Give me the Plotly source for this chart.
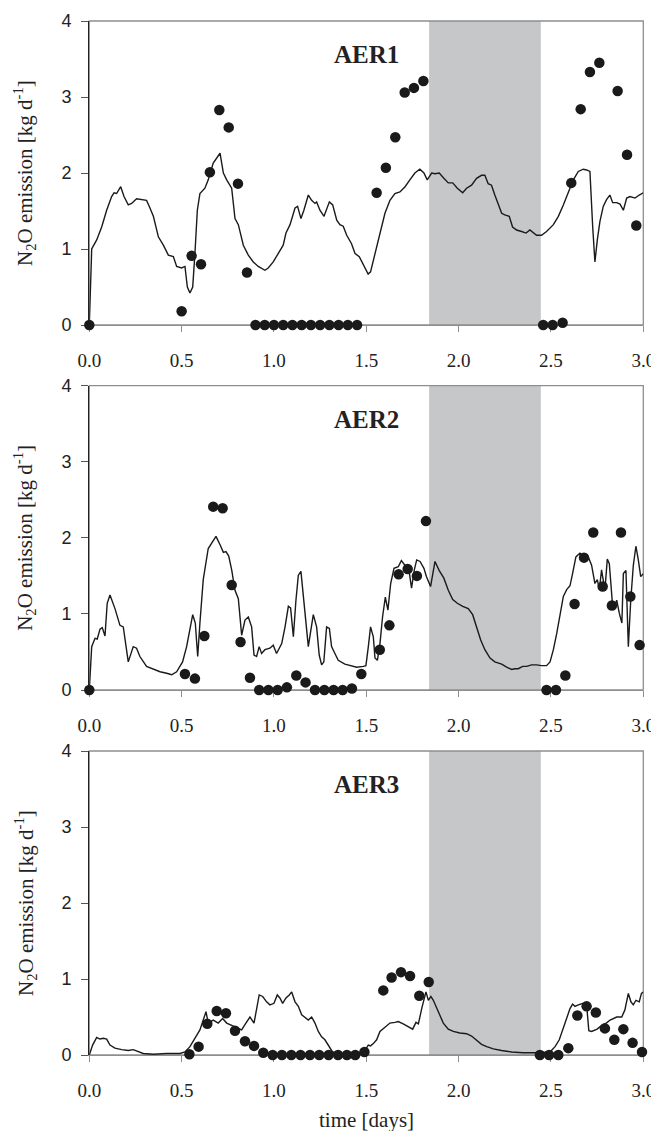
import plotly.graph_objects as go
from plotly.subplots import make_subplots

# ---------------- data ----------------
panel_names = ["AER1", "AER2", "AER3"]
shade_start, shade_end = 1.84, 2.445
x_ticks = [0.0, 0.5, 1.0, 1.5, 2.0, 2.5, 3.0]
y_ticks = [0, 1, 2, 3, 4]

# AER1 measured (dots)
t1_obs = [0.0, 0.50, 0.554, 0.605, 0.653, 0.704, 0.755, 0.805, 0.854,
          0.90, 0.95, 1.00, 1.05, 1.10, 1.15, 1.20, 1.25, 1.30, 1.35, 1.40, 1.45,
          1.556, 1.606, 1.657, 1.708, 1.758, 1.809,
          2.458, 2.509, 2.563, 2.610, 2.661, 2.711, 2.762, 2.861, 2.912, 2.962]
y1_obs = [0.0, 0.18, 0.91, 0.80, 2.01, 2.83, 2.60, 1.86, 0.69,
          0, 0, 0, 0, 0, 0, 0, 0, 0, 0, 0, 0,
          1.74, 2.07, 2.47, 3.06, 3.12, 3.21,
          0.0, 0.0, 0.03, 1.87, 2.84, 3.33, 3.45, 3.08, 2.24, 1.31]

# AER1 model (line)
t1_mod = [0.0, 0.013, 0.04, 0.067, 0.094, 0.121, 0.134, 0.148, 0.17, 0.188, 0.211, 0.229,
          0.256, 0.283, 0.31, 0.325, 0.347, 0.374, 0.401, 0.428, 0.455, 0.473, 0.5, 0.518,
          0.531, 0.545, 0.56, 0.572, 0.585, 0.599, 0.626, 0.644, 0.671, 0.708, 0.726, 0.744,
          0.771, 0.789, 0.807, 0.834, 0.861, 0.888, 0.915, 0.951, 0.969, 0.996, 1.023, 1.05,
          1.065, 1.087, 1.114, 1.128, 1.146, 1.162, 1.186, 1.204, 1.222, 1.231, 1.249, 1.271,
          1.30, 1.318, 1.34, 1.357, 1.375, 1.394, 1.42, 1.439, 1.462, 1.484, 1.51, 1.523,
          1.547, 1.574, 1.601, 1.628, 1.655, 1.682, 1.71, 1.736, 1.763, 1.79, 1.812, 1.83,
          1.854, 1.872, 1.895, 1.92, 1.944, 1.968, 1.993, 2.022, 2.043, 2.07, 2.097, 2.124,
          2.142, 2.16, 2.178, 2.196, 2.214, 2.233, 2.25, 2.274, 2.292, 2.314, 2.341, 2.365,
          2.386, 2.404, 2.422, 2.449, 2.476, 2.513, 2.54, 2.567, 2.594, 2.621, 2.648, 2.675,
          2.693, 2.711, 2.726, 2.738, 2.751, 2.765, 2.783, 2.801, 2.819, 2.834, 2.856, 2.874,
          2.892, 2.91, 2.928, 2.955, 2.978, 3.0]
y1_mod = [0.0, 1.0, 1.12, 1.29, 1.51, 1.69, 1.74, 1.73, 1.82, 1.69, 1.58, 1.60,
          1.66, 1.65, 1.64, 1.56, 1.43, 1.16, 1.05, 0.92, 0.90, 0.77, 0.75, 0.77,
          0.50, 0.42, 0.50, 0.94, 1.51, 1.73, 1.80, 1.91, 2.13, 2.26, 2.0, 1.91,
          1.80, 1.40, 1.32, 1.05, 0.92, 0.83, 0.77, 0.72, 0.75, 0.83, 0.94, 1.05,
          1.21, 1.32, 1.54, 1.56, 1.40, 1.51, 1.71, 1.64, 1.60, 1.62, 1.51, 1.43,
          1.62, 1.58, 1.38, 1.32, 1.30, 1.18, 1.07, 0.94, 0.90, 0.79, 0.67, 0.70,
          0.94, 1.21, 1.47, 1.64, 1.73, 1.75, 1.82, 1.91, 2.0, 2.05, 2.0, 1.91,
          2.0, 1.99, 2.0, 1.93, 1.87, 1.87, 1.80, 1.74, 1.80, 1.84, 1.93, 1.97,
          1.97, 1.86, 1.84, 1.71, 1.60, 1.47, 1.45, 1.43, 1.29, 1.25, 1.23, 1.21,
          1.25, 1.21, 1.18, 1.18, 1.23, 1.32, 1.43, 1.58, 1.75, 1.91, 2.02, 2.05,
          2.04, 2.02, 1.29, 0.83, 1.12, 1.36, 1.56, 1.65, 1.71, 1.61, 1.61, 1.59,
          1.51, 1.67, 1.69, 1.67, 1.71, 1.74]

# AER2 measured (dots)
t2_obs = [0.0, 0.518, 0.572, 0.623, 0.671, 0.722, 0.771, 0.819, 0.87,
          0.92, 0.97, 1.02, 1.07, 1.121, 1.171, 1.222, 1.273, 1.323, 1.372, 1.422,
          1.473, 1.573, 1.625, 1.675, 1.724, 1.774, 1.823,
          2.476, 2.527, 2.578, 2.628, 2.679, 2.729, 2.78, 2.83, 2.879, 2.93, 2.98]
y2_obs = [0.0, 0.21, 0.15, 0.71, 2.41, 2.39, 1.38, 0.63, 0.16,
          0.0, 0.0, 0.0, 0.035, 0.19, 0.10, 0.0, 0.0, 0.0, 0.0, 0.02,
          0.21, 0.53, 0.85, 1.52, 1.59, 1.50, 2.22,
          0.0, 0.0, 0.19, 1.13, 1.74, 2.07, 1.36, 1.11, 2.07, 1.23, 0.59]

# AER2 model (line)
t2_mod = [0.0, 0.013, 0.031, 0.043, 0.058, 0.07, 0.085, 0.097, 0.112, 0.139, 0.166, 0.184,
          0.211, 0.238, 0.256, 0.274, 0.31, 0.347, 0.383, 0.419, 0.446, 0.473, 0.505, 0.527,
          0.545, 0.56, 0.574, 0.587, 0.599, 0.617, 0.644, 0.671, 0.686, 0.708, 0.726, 0.74,
          0.755, 0.771, 0.789, 0.807, 0.825, 0.843, 0.861, 0.879, 0.892, 0.906, 0.92, 0.933,
          0.951, 0.978, 0.996, 1.014, 1.042, 1.06, 1.078, 1.09, 1.105, 1.119, 1.132, 1.146,
          1.162, 1.186, 1.213, 1.231, 1.245, 1.258, 1.27, 1.285, 1.30, 1.312, 1.33, 1.348,
          1.384, 1.42, 1.448, 1.484, 1.498, 1.511, 1.523, 1.538, 1.547, 1.56, 1.574, 1.588,
          1.603, 1.617, 1.632, 1.65, 1.673, 1.69, 1.709, 1.727, 1.745, 1.76, 1.773, 1.791,
          1.812, 1.826, 1.848, 1.872, 1.895, 1.92, 1.944, 1.968, 1.993, 2.022, 2.052, 2.076,
          2.097, 2.119, 2.142, 2.17, 2.196, 2.233, 2.26, 2.287, 2.305, 2.323, 2.347, 2.368,
          2.395, 2.422, 2.449, 2.476, 2.495, 2.513, 2.531, 2.549, 2.567, 2.585, 2.603, 2.617,
          2.635, 2.657, 2.684, 2.702, 2.72, 2.738, 2.751, 2.762, 2.774, 2.792, 2.805, 2.816,
          2.834, 2.847, 2.856, 2.87, 2.884, 2.892, 2.906, 2.919, 2.932, 2.946, 2.96, 2.973,
          2.986, 3.0]
y2_mod = [0.0, 0.57, 0.68, 0.67, 0.80, 0.82, 0.71, 1.14, 1.25, 1.07, 0.85, 0.83,
          0.37, 0.57, 0.55, 0.44, 0.31, 0.27, 0.24, 0.22, 0.20, 0.24, 0.37, 0.57,
          0.83, 0.99, 0.88, 0.44, 0.88, 1.45, 1.86, 1.97, 2.02, 1.91, 1.81, 1.82,
          1.76, 1.58, 1.31, 1.20, 0.72, 0.92, 0.96, 0.83, 0.46, 0.44, 0.57, 0.48,
          0.53, 0.55, 0.59, 0.48, 0.61, 0.83, 1.10, 1.08, 0.70, 1.18, 1.51, 1.56,
          1.18, 0.57, 0.99, 0.83, 0.46, 0.33, 0.37, 0.83, 0.81, 0.57, 0.48, 0.39,
          0.34, 0.32, 0.30, 0.31, 0.32, 0.57, 0.83, 0.70, 0.42, 0.39, 0.61, 0.96,
          1.22, 1.05, 1.40, 1.60, 1.62, 1.70, 1.64, 1.64, 1.34, 1.58, 1.71, 1.69,
          1.60, 1.49, 1.36, 1.69, 1.57, 1.47, 1.31, 1.19, 1.14, 1.10, 1.07, 0.99,
          0.83, 0.66, 0.53, 0.42, 0.37, 0.34, 0.30, 0.27, 0.28, 0.28, 0.31, 0.31,
          0.33, 0.33, 0.32, 0.32, 0.37, 0.53, 0.74, 1.01, 1.23, 1.32, 1.37, 1.53,
          1.75, 1.80, 1.75, 1.75, 1.64, 1.40, 1.45, 1.32, 1.58, 1.31, 1.72, 1.66,
          1.10, 1.12, 1.18, 1.01, 0.88, 1.53, 1.57, 0.57, 1.18, 1.64, 1.89, 1.71,
          1.49, 1.53]

# AER3 measured (dots)
t3_obs = [0.542, 0.592, 0.639, 0.69, 0.74, 0.789, 0.843, 0.892, 0.942,
          0.993, 1.043, 1.094, 1.144, 1.195, 1.245, 1.296, 1.347, 1.395, 1.44, 1.49,
          1.592, 1.637, 1.688, 1.737, 1.787, 1.838,
          2.44, 2.49, 2.54, 2.594, 2.643, 2.693, 2.743, 2.792, 2.843, 2.892, 2.942, 2.993]
y3_obs = [0.01, 0.11, 0.41, 0.58, 0.55, 0.32, 0.18, 0.12, 0.03,
          0, 0, 0, 0, 0, 0, 0, 0, 0, 0, 0.04,
          0.85, 1.02, 1.09, 1.04, 0.78, 0.96,
          0.0, 0.0, 0.0, 0.09, 0.52, 0.64, 0.56, 0.35, 0.20, 0.34, 0.16, 0.04]

# AER3 model (line)
t3_mod = [0.0, 0.018, 0.04, 0.058, 0.076, 0.094, 0.112, 0.139, 0.175, 0.211, 0.238, 0.265,
          0.292, 0.347, 0.419, 0.491, 0.518, 0.545, 0.572, 0.599, 0.617, 0.632, 0.644, 0.671,
          0.698, 0.722, 0.744, 0.771, 0.798, 0.825, 0.848, 0.87, 0.892, 0.906, 0.92, 0.939,
          0.96, 0.978, 1.0, 1.018, 1.032, 1.047, 1.065, 1.083, 1.096, 1.114, 1.132, 1.15,
          1.168, 1.186, 1.204, 1.222, 1.24, 1.258, 1.276, 1.294, 1.312, 1.33, 1.38, 1.43,
          1.49, 1.511, 1.523, 1.538, 1.556, 1.574, 1.601, 1.628, 1.655, 1.673, 1.70, 1.727,
          1.751, 1.769, 1.782, 1.80, 1.812, 1.823, 1.836, 1.85, 1.863, 1.877, 1.895, 1.917,
          1.944, 1.971, 2.007, 2.043, 2.07, 2.097, 2.124, 2.152, 2.188, 2.233, 2.287, 2.35,
          2.422, 2.495, 2.522, 2.545, 2.567, 2.585, 2.603, 2.617, 2.63, 2.648, 2.675, 2.693,
          2.705, 2.72, 2.75, 2.78, 2.80, 2.82, 2.856, 2.883, 2.90, 2.919, 2.933, 2.946,
          2.96, 2.978, 2.99, 3.0]
y3_mod = [0.0, 0.13, 0.23, 0.21, 0.22, 0.21, 0.13, 0.09, 0.07, 0.06, 0.07, 0.04,
          0.02, 0.01, 0.02, 0.02, 0.04, 0.11, 0.22, 0.33, 0.46, 0.57, 0.42, 0.46,
          0.42, 0.48, 0.42, 0.39, 0.35, 0.33, 0.42, 0.50, 0.42, 0.59, 0.79, 0.77,
          0.70, 0.66, 0.68, 0.79, 0.75, 0.68, 0.75, 0.79, 0.83, 0.70, 0.64, 0.53,
          0.50, 0.46, 0.50, 0.42, 0.31, 0.24, 0.20, 0.13, 0.06, 0.02, 0.01, 0.01,
          0.05, 0.13, 0.12, 0.15, 0.20, 0.31, 0.37, 0.42, 0.43, 0.44, 0.41, 0.37,
          0.34, 0.43, 0.41, 0.61, 0.72, 0.83, 0.72, 0.77, 0.72, 0.64, 0.53, 0.42,
          0.34, 0.31, 0.29, 0.28, 0.25, 0.20, 0.14, 0.11, 0.08, 0.06, 0.04, 0.03,
          0.03, 0.04, 0.11, 0.20, 0.35, 0.50, 0.61, 0.67, 0.64, 0.66, 0.68, 0.66,
          0.32, 0.31, 0.34, 0.40, 0.42, 0.46, 0.50, 0.50, 0.59, 0.81, 0.70, 0.66,
          0.72, 0.70, 0.81, 0.83]

obs = [(t1_obs, y1_obs), (t2_obs, y2_obs), (t3_obs, y3_obs)]
mod = [(t1_mod, y1_mod), (t2_mod, y2_mod), (t3_mod, y3_mod)]

# ---------------- figure ----------------
# page body has an 8px margin, so the figure sits at (8, 8) in the window
OFF = 8
W, H = 659 - OFF, 1131 - OFF
fig = make_subplots(rows=3, cols=1)

x_dom = [(89.3 - OFF) / W, (643.3 - OFF) / W]
panel_px = [(21, 325), (385.7, 690), (751, 1055)]
y_doms = [[1 - (b - OFF) / H, 1 - (t - OFF) / H] for t, b in panel_px]

serif = "Liberation Serif, Times New Roman, serif"
sans = "Liberation Sans, Arial, sans-serif"

for i in range(3):
    r = i + 1
    tm, ym = mod[i]
    to, yo = obs[i]
    fig.add_trace(go.Scatter(x=tm, y=ym, mode="lines",
                             line=dict(color="#1a1a1a", width=1.4),
                             showlegend=False, cliponaxis=False), row=r, col=1)
    fig.add_trace(go.Scatter(x=to, y=yo, mode="markers",
                             marker=dict(color="#1a1a1a", size=10.5),
                             showlegend=False, cliponaxis=False), row=r, col=1)
    sfx = "" if r == 1 else str(r)
    xa = "x" + sfx
    ya = "y" + sfx
    # shading
    fig.add_shape(type="rect", xref=xa, yref=ya + " domain", x0=shade_start, x1=shade_end,
                  y0=0, y1=1, fillcolor="#c6c7c9", line=dict(width=0), layer="below")
    # frame
    fig.add_shape(type="rect", xref=xa + " domain", yref=ya + " domain", x0=0, x1=1,
                  y0=0, y1=1, line=dict(color="#8e8e8e", width=1.3), layer="below")
    # panel title
    fig.add_annotation(x=1.5, y=3.56, xref=xa, yref=ya, text="<b>%s</b>" % panel_names[i],
                       showarrow=False, font=dict(family=serif, size=25, color="#222"))
    # y axis title
    t, b = panel_px[i]
    fig.add_annotation(x=(25 - OFF) / W, y=1 - ((t + b) / 2 - OFF) / H,
                       xref="paper", yref="paper",
                       text="N<sub>2</sub>O emission [kg d<sup>-1</sup>]", textangle=-90,
                       showarrow=False, xanchor="center", yanchor="middle",
                       font=dict(family=serif, size=21, color="#222"))

    fig.update_xaxes(row=r, col=1, domain=x_dom, range=[0, 3.0], tickvals=x_ticks,
                     ticktext=["%.1f" % v for v in x_ticks],
                     showgrid=False, zeroline=False, showline=True, linecolor="#8e8e8e",
                     linewidth=1.3, ticks="outside", ticklen=6, tickcolor="#8e8e8e",
                     tickwidth=1.3, tickfont=dict(family=serif, size=19, color="#222"),
                     ticklabelstandoff=12, layer="below traces")
    fig.update_yaxes(row=r, col=1, domain=y_doms[i], range=[0, 4], tickvals=y_ticks,
                     showgrid=False, zeroline=False, showline=True, linecolor="#222",
                     linewidth=1.3, ticks="outside", ticklen=7, tickcolor="#555",
                     tickwidth=1.3, tickfont=dict(family=sans, size=18, color="#222"),
                     ticklabelstandoff=6, layer="below traces")

fig.add_annotation(x=(366.7 - OFF) / W, y=1 - (1120 - OFF) / H, xref="paper", yref="paper",
                   text="time [days]", showarrow=False, xanchor="center", yanchor="middle",
                   font=dict(family=serif, size=21, color="#222"))

fig.update_layout(width=W, height=H, margin=dict(l=0, r=0, t=0, b=0, autoexpand=False),
                  plot_bgcolor="white", paper_bgcolor="white", showlegend=False)

fig.write_html("out.html")
